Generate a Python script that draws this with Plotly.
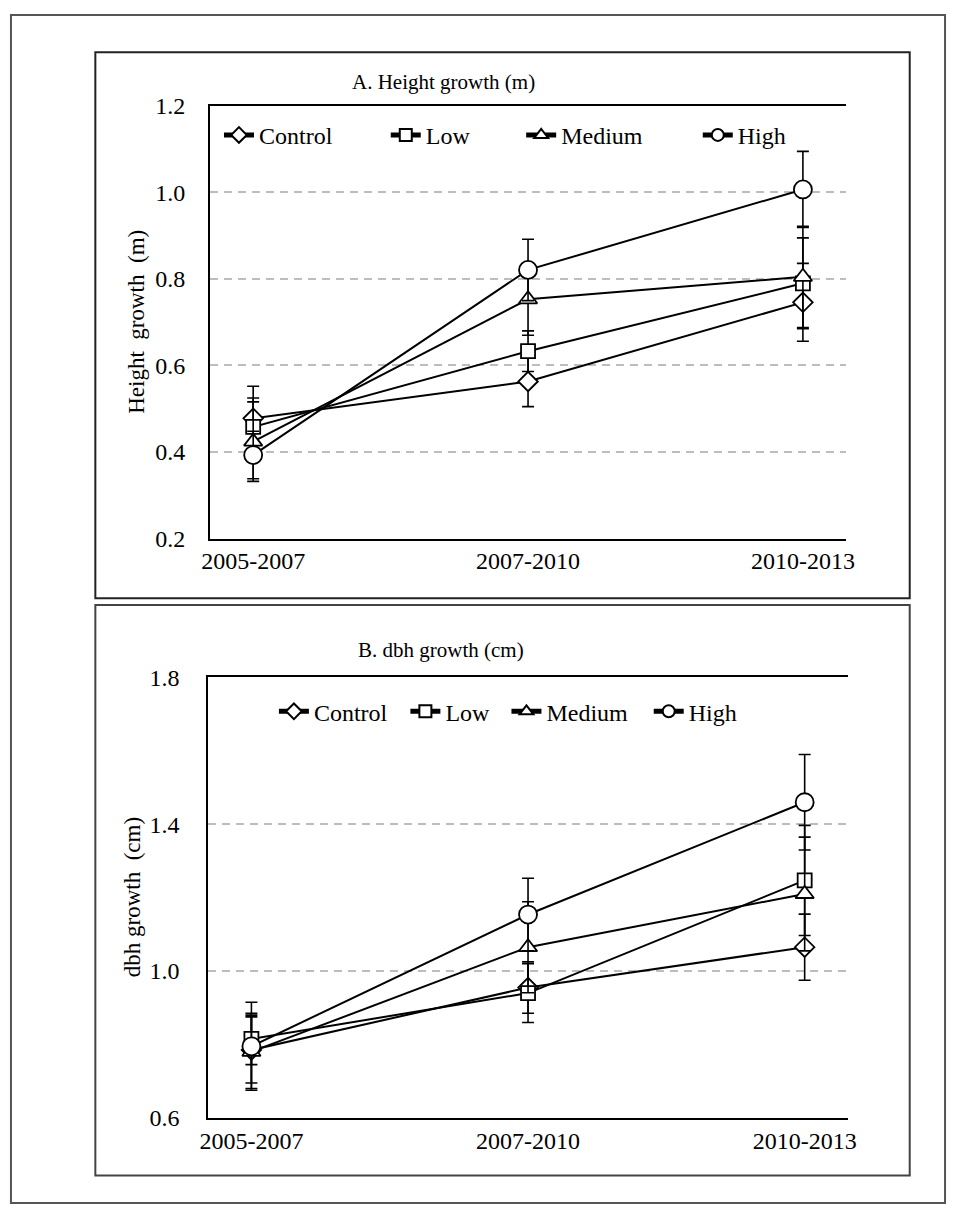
import plotly.graph_objects as go

periods = ["2005-2007", "2007-2010", "2010-2013"]
treatments = ["Control", "Low", "Medium", "High"]

# Panel A: height growth (m)
height_control = [0.478, 0.563, 0.746]
height_low = [0.458, 0.633, 0.790]
height_medium = [0.424, 0.753, 0.805]
height_high = [0.393, 0.821, 1.007]
height_control_se = [0.074, 0.058, 0.090]
height_low_se = [0.067, 0.047, 0.105]
height_medium_se = [0.092, 0.083, 0.117]
height_high_se = [0.055, 0.071, 0.088]

# Panel B: dbh growth (cm)
dbh_control = [0.785, 0.955, 1.065]
dbh_low = [0.815, 0.940, 1.247]
dbh_medium = [0.780, 1.065, 1.210]
dbh_high = [0.795, 1.154, 1.460]
dbh_control_se = [0.090, 0.070, 0.090]
dbh_low_se = [0.070, 0.080, 0.150]
dbh_medium_se = [0.100, 0.124, 0.155]
dbh_high_se = [0.120, 0.099, 0.130]

W, H = 956, 1215
FONT = "Liberation Serif"

def px(x):
    return x / W

def py(y):
    return 1 - y / H

symbols = {"Control": "diamond", "Low": "square", "Medium": "triangle-up", "High": "circle"}
sizes = {"Control": 15, "Low": 14, "Medium": 16, "High": 18}

fig = go.Figure()

panelA = [height_control, height_low, height_medium, height_high]
panelA_se = [height_control_se, height_low_se, height_medium_se, height_high_se]
panelB = [dbh_control, dbh_low, dbh_medium, dbh_high]
panelB_se = [dbh_control_se, dbh_low_se, dbh_medium_se, dbh_high_se]

for i, t in enumerate(treatments):
    for vals, ses, xa, ya, leg in [(panelA[i], panelA_se[i], "x", "y", "legend" if i == 0 else f"legend{i+1}"),
                                   (panelB[i], panelB_se[i], "x2", "y2", f"legend{i+5}")]:
        fig.add_trace(go.Scatter(
            x=periods, y=vals, name=t, mode="lines+markers",
            xaxis=xa, yaxis=ya, legend=leg,
            line=dict(color="black", width=2),
            marker=dict(symbol=symbols[t], size=sizes[t], color="white",
                        line=dict(color="black", width=1.8)),
            error_y=dict(type="data", array=ses, visible=True, color="black",
                         thickness=1.6, width=6),
            cliponaxis=False,
        ))

tickfont = dict(family=FONT, size=24, color="black")

fig.update_layout(
    width=W, height=H, margin=dict(l=0, r=0, t=0, b=0),
    paper_bgcolor="white", plot_bgcolor="white",
    font=dict(family=FONT, color="black"),
    xaxis=dict(domain=[px(205), px(853)], anchor="y", type="category",
               showgrid=False, showline=True, linecolor="black", linewidth=2,
               mirror=True, ticks="", tickfont=tickfont),
    yaxis=dict(domain=[py(537), py(95)], anchor="x", range=[0.2, 1.2], tick0=0.2, dtick=0.2,
               tickformat=".1f", showgrid=True, gridcolor="#bdbdbd", gridwidth=1.5,
               griddash="8px,6px", ticklabelstandoff=18, zeroline=False,
               showline=True, linecolor="black", linewidth=2, ticks="", tickfont=tickfont),
    xaxis2=dict(domain=[px(203), px(855)], anchor="y2", type="category",
                showgrid=False, showline=True, linecolor="black", linewidth=2,
                mirror=True, ticks="", tickfont=tickfont),
    yaxis2=dict(domain=[py(1129), py(679)], anchor="x2", range=[0.6, 1.8], tick0=0.6, dtick=0.4,
                tickformat=".1f", showgrid=True, gridcolor="#bdbdbd", gridwidth=1.5,
                griddash="8px,6px", ticklabelstandoff=22, zeroline=False,
                showline=True, linecolor="black", linewidth=2, ticks="", tickfont=tickfont),
    showlegend=True,
)

legA_x = [214, 384, 522, 702]
legB_x = [270, 404, 507, 652]
for i in range(4):
    key = "legend" if i == 0 else f"legend{i+1}"
    fig.layout[key] = dict(x=px(legA_x[i]), y=py(125), xanchor="left", yanchor="middle",
                           orientation="h", bgcolor="rgba(0,0,0,0)", itemsizing="constant",
                           font=dict(family=FONT, size=24, color="black"))
    fig.layout[f"legend{i+5}"] = dict(x=px(legB_x[i]), y=py(714), xanchor="left", yanchor="middle",
                                      orientation="h", bgcolor="rgba(0,0,0,0)", itemsizing="constant",
                                      font=dict(family=FONT, size=24, color="black"))

ann_font = dict(family=FONT, size=23, color="black")
annotations = [
    dict(text="A. Height growth (m)", x=px(443), y=py(70), xref="paper", yref="paper",
         xanchor="center", yanchor="middle", showarrow=False,
         font=dict(family=FONT, size=21, color="black")),
    dict(text="B. dbh growth (cm)", x=px(440), y=py(651), xref="paper", yref="paper",
         xanchor="center", yanchor="middle", showarrow=False,
         font=dict(family=FONT, size=21, color="black")),
    dict(text="Height  growth  (m)", x=px(130), y=py(316), xref="paper", yref="paper",
         xanchor="center", yanchor="middle", textangle=-90, showarrow=False, font=ann_font),
    dict(text="dbh growth  (cm)", x=px(126), y=py(904), xref="paper", yref="paper",
         xanchor="center", yanchor="middle", textangle=-90, showarrow=False, font=ann_font),
]
fig.update_layout(annotations=annotations)

shapes = [
    dict(type="rect", xref="paper", yref="paper", x0=px(88), x1=px(918), y0=py(598), y1=py(40),
         line=dict(color="#222", width=2)),
    dict(type="rect", xref="paper", yref="paper", x0=px(88), x1=px(918), y0=py(1188), y1=py(605),
         line=dict(color="#444", width=2)),
    dict(type="rect", xref="paper", yref="paper", x0=px(2), x1=px(954), y0=py(1216), y1=py(2),
         line=dict(color="#555", width=2)),
]
fig.update_layout(shapes=shapes)

fig.write_html("out.html", config={"displayModeBar": False},
               post_script="document.body.style.margin='0';document.body.style.overflow='hidden';")
